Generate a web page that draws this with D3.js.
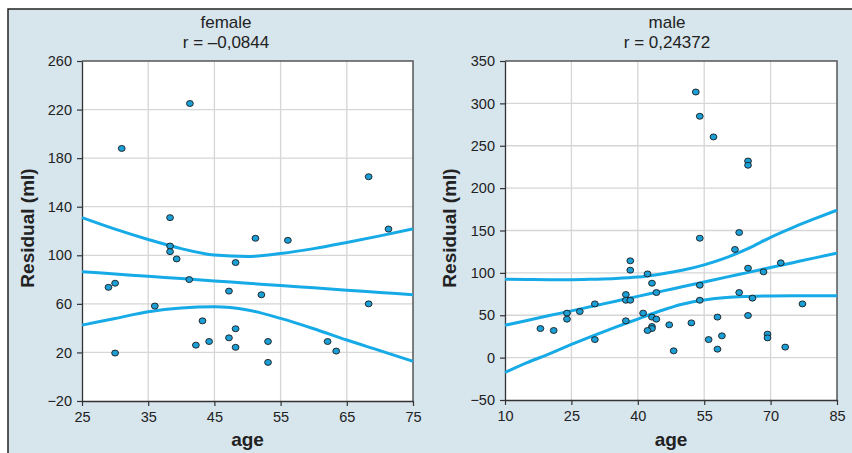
<!DOCTYPE html>
<html>
<head>
<meta charset="utf-8">
<script src="https://cdn.jsdelivr.net/npm/d3@7"></script>
<style>
  body { margin: 0; background: #fff; }
  svg { display: block; font-family: "Liberation Sans", Arial, sans-serif; }
</style>
</head>
<body>
<div id="chart"></div>
<script>
// Residual vs age, female and male panels.

// female points
const femaleAge = [31.0, 41.3, 68.3, 38.3, 71.3, 51.2, 56.1, 38.3, 38.3, 39.3, 48.2, 41.2, 29.0, 30.0,
  47.2, 52.1, 68.3, 36.0, 43.2, 48.2, 47.2, 44.2, 53.1, 62.1, 42.2, 48.2, 63.4, 30.0, 53.1];
const femaleRes = [188, 225, 164.7, 131, 121.6, 114, 112.3, 107.6, 103, 97, 94, 80, 73.6, 77,
  70.5, 67.5, 60, 58.2, 46, 39.5, 32, 29, 29, 29, 26, 24.2, 21.1, 19.5, 11.8];

// female fit line and band, read at these ages
const femaleLineAge = [25, 30, 35, 40, 45, 50, 55, 60, 65, 70, 75];
const femaleFit   = [86.5, 84.6, 82.7, 80.8, 78.9, 77.0, 75.1, 73.2, 71.3, 69.4, 67.5];
const femaleUpper = [131, 121.5, 113, 105.5, 100.2, 99, 101.5, 105.5, 110.6, 116, 121.7];
const femaleLower = [42.5, 48, 53.5, 56.6, 57.6, 55, 48, 39.5, 30.2, 21.5, 12.7];

// male points
const maleAge = [53.1, 54.0, 57.1, 64.9, 64.9, 54.0, 62.9, 61.95, 38.3, 38.3, 42.2, 64.9, 68.4, 72.3,
  43.2, 54.0, 44.2, 62.9, 37.3, 37.3, 38.3, 54.0, 65.9, 30.3, 26.9, 24.0, 24.0, 77.2, 41.2, 43.2,
  44.2, 37.3, 58.0, 64.9, 47.1, 52.1, 43.2, 43.2, 42.2, 18.0, 21.0, 69.3, 69.3, 59.0, 30.3, 56.0,
  58.0, 73.3, 48.1];
const maleRes = [313.4, 284.8, 260.4, 232, 227, 140.9, 147.6, 127.6, 114.2, 103.2, 98.8, 105.5, 101.2, 111.8,
  87.8, 85.4, 76.8, 76.8, 74.4, 67.7, 67.7, 67.7, 70.2, 63.4, 54.4, 52.5, 45.4, 63.4, 52.5, 47.8,
  45.4, 43.4, 47.8, 49.7, 38.7, 41, 36.7, 34.3, 32, 34.3, 32, 27.7, 23.3, 25.7, 21.3, 21.3,
  10, 12.4, 8];

// male fit line and band
const maleLineAge = [10, 15, 20, 25, 30, 35, 40, 45, 50, 55, 60, 65, 70, 75, 80, 85];
const maleFit   = [38.2, 43.9, 49.6, 55.2, 60.9, 66.6, 72.3, 77.9, 83.6, 89.3, 95.0, 100.6, 106.3, 112.0, 117.7, 123.2];
const maleUpper = [92.5, 92.2, 92, 92, 92.5, 93.3, 95, 98.5, 103, 109.5, 118, 129, 142, 153.5, 164, 174];
const maleLower = [-17.5, -6, 4.5, 15.5, 26, 36, 45.5, 55, 63, 68, 71, 72.2, 72.8, 73, 73, 73];

// tick values
const femaleXTicks = [25, 35, 45, 55, 65, 75];
const femaleYTicks = [-20, 20, 60, 100, 140, 180, 220, 260];
const maleXTicks = [10, 25, 40, 55, 70, 85];
const maleYTicks = [-50, 0, 50, 100, 150, 200, 250, 300, 350];

const width = 852;
const height = 453;

const svg = d3.select("#chart").append("svg")
  .attr("width", width)
  .attr("height", height);

// panel background and frame
svg.append("rect")
  .attr("x", 8).attr("y", 9)
  .attr("width", width - 8).attr("height", height - 9)
  .attr("fill", "#d7e5ed");
svg.append("path")
  .attr("d", `M8,${height} L8,9 L${width},9`)
  .attr("fill", "none")
  .attr("stroke", "#222")
  .attr("stroke-width", 1.5);

function drawPanel(opts) {
  const g = svg.append("g");
  const x = d3.scaleLinear().domain(opts.xDomain).range([opts.left, opts.right]);
  const y = d3.scaleLinear().domain(opts.yDomain).range([opts.bottom, opts.top]);

  // plot area
  g.append("rect")
    .attr("x", opts.left).attr("y", opts.top)
    .attr("width", opts.right - opts.left).attr("height", opts.bottom - opts.top)
    .attr("fill", "#fff");

  // grid
  g.append("g").selectAll("line")
    .data(opts.xTicks.slice(1, -1))
    .join("line")
    .attr("x1", d => x(d)).attr("x2", d => x(d))
    .attr("y1", opts.top).attr("y2", opts.bottom)
    .attr("stroke", "#d6d6d6").attr("stroke-width", 1.3);
  g.append("g").selectAll("line")
    .data(opts.yTicks.slice(1, -1))
    .join("line")
    .attr("x1", opts.left).attr("x2", opts.right)
    .attr("y1", d => y(d)).attr("y2", d => y(d))
    .attr("stroke", "#d6d6d6").attr("stroke-width", 1.3);

  // top and right border
  g.append("path")
    .attr("d", `M${opts.left},${opts.top} L${opts.right},${opts.top} L${opts.right},${opts.bottom}`)
    .attr("fill", "none")
    .attr("stroke", "#555")
    .attr("stroke-width", 1.5);

  // axes
  const xAxis = g.append("g")
    .attr("transform", `translate(0,${opts.bottom})`)
    .call(d3.axisBottom(x).tickValues(opts.xTicks).tickSize(5).tickPadding(6).tickSizeOuter(0));
  const yAxis = g.append("g")
    .attr("transform", `translate(${opts.left},0)`)
    .call(d3.axisLeft(y).tickValues(opts.yTicks).tickSize(5).tickPadding(5).tickSizeOuter(0));
  for (const ax of [xAxis, yAxis]) {
    ax.select(".domain").attr("stroke", "#333").attr("stroke-width", 1.3);
    ax.selectAll(".tick line").attr("stroke", "#333").attr("stroke-width", 1.2);
    ax.selectAll(".tick text")
      .attr("font-family", "Liberation Sans, Arial, sans-serif")
      .attr("font-size", 14.5)
      .attr("fill", "#222");
  }

  // band and fit lines
  const line = d3.line()
    .x((d, i) => x(opts.lineAge[i]))
    .y(d => y(d))
    .curve(d3.curveMonotoneX);
  for (const s of [opts.upper, opts.fit, opts.lower]) {
    g.append("path")
      .attr("d", line(s))
      .attr("fill", "none")
      .attr("stroke", "#16aae6")
      .attr("stroke-width", 3);
  }

  // points
  g.append("g").selectAll("ellipse")
    .data(opts.ages.map((a, i) => [a, opts.res[i]]))
    .join("ellipse")
    .attr("cx", d => x(d[0]))
    .attr("cy", d => y(d[1]))
    .attr("rx", 3.4).attr("ry", 3.0)
    .attr("fill", "#1b9fd6")
    .attr("stroke", "#1a1a1a")
    .attr("stroke-width", 0.9);

  // titles
  g.append("text")
    .attr("x", opts.titleX).attr("y", 28)
    .attr("text-anchor", "middle")
    .attr("font-size", 17).attr("fill", "#222")
    .text(opts.title);
  g.append("text")
    .attr("x", opts.titleX).attr("y", 48)
    .attr("text-anchor", "middle")
    .attr("font-size", 17).attr("fill", "#222")
    .text(opts.subtitle);

  // axis labels
  g.append("text")
    .attr("x", (opts.left + opts.right) / 2).attr("y", 446)
    .attr("text-anchor", "middle")
    .attr("font-size", 19).attr("font-weight", "bold").attr("fill", "#222")
    .text("age");
  g.append("text")
    .attr("transform", `translate(${opts.yLabelX},228) rotate(-90)`)
    .attr("text-anchor", "middle")
    .attr("font-size", 19).attr("font-weight", "bold").attr("fill", "#222")
    .text("Residual (ml)");
}

drawPanel({
  left: 82, right: 413, top: 61, bottom: 401,
  xDomain: [25, 75], yDomain: [-20, 260],
  xTicks: femaleXTicks, yTicks: femaleYTicks,
  ages: femaleAge, res: femaleRes,
  lineAge: femaleLineAge, fit: femaleFit, upper: femaleUpper, lower: femaleLower,
  title: "female", subtitle: "r = –0,0844", titleX: 226, yLabelX: 34
});

drawPanel({
  left: 505, right: 837, top: 61, bottom: 400,
  xDomain: [10, 85], yDomain: [-50, 350],
  xTicks: maleXTicks, yTicks: maleYTicks,
  ages: maleAge, res: maleRes,
  lineAge: maleLineAge, fit: maleFit, upper: maleUpper, lower: maleLower,
  title: "male", subtitle: "r = 0,24372", titleX: 667, yLabelX: 456
});
</script>
</body>
</html>
